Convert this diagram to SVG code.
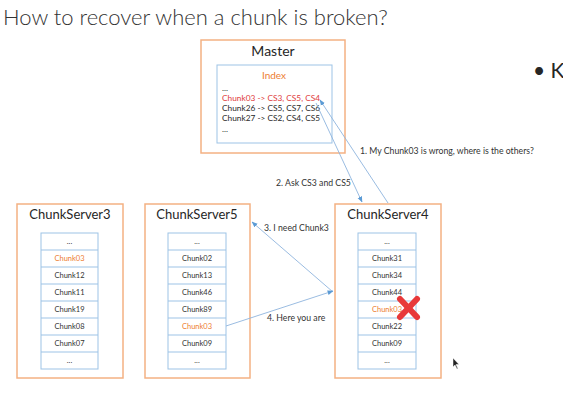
<svg xmlns="http://www.w3.org/2000/svg" width="563" height="400" viewBox="0 0 563 400">
  <defs>
    <style>
      text { font-family: Lato, "Open Sans", "Liberation Sans", sans-serif; fill: #262626; }
      .box { fill: #ffffff; stroke: #F4B183; stroke-width: 1.5; }
      .list { fill: #ffffff; stroke: #9DC3E6; stroke-width: 1; }
      .sep { stroke: #9DC3E6; stroke-width: 1; }
      .title { font-size: 22px; fill: #333333; font-weight: 300; }
      .srv { font-size: 13px; text-anchor: middle; }
      .cell { font-size: 7.5px; text-anchor: middle; fill: #333333; }
      .hot { fill: #ED7D31; }
      .idx { font-size: 8.3px; }
      .red { fill: #E03A3A; }
      .lbl { font-size: 8.7px; fill: #333333; }
      .conn { stroke: #8FB4DE; stroke-width: 0.9; fill: none; marker-end: url(#arrow); }
    </style>
    <marker id="arrow" viewBox="0 0 10 10" refX="9" refY="5" markerWidth="6" markerHeight="6" orient="auto" markerUnits="userSpaceOnUse">
      <path d="M0,1 L10,5 L0,9 z" fill="#5B9BD5"/>
    </marker>
  </defs>

  <rect width="563" height="400" fill="#ffffff"/>

  <text class="title" x="3" y="25">How to recover when a chunk is broken?</text>
  <text x="533" y="78" style="font-size:21px" fill="#222">• K</text>

  <!-- Master with its index table -->
  <g id="master">
    <rect class="box" x="201" y="40" width="144" height="113"/>
    <text x="273" y="56" style="font-size:14px" text-anchor="middle">Master</text>
    <rect class="list" x="217" y="65" width="115" height="78"/>
    <text x="274" y="79" class="idx hot" text-anchor="middle" style="font-size:10px">Index</text>
    <text class="idx" x="222" y="91">...</text>
    <text class="idx red" x="222" y="101">Chunk03 -&gt; CS3, CS5, CS4</text>
    <text class="idx" x="222" y="111">Chunk26 -&gt; CS5, CS7, CS6</text>
    <text class="idx" x="222" y="121">Chunk27 -&gt; CS2, CS4, CS5</text>
    <text class="idx" x="222" y="132">...</text>
  </g>

  <!-- ChunkServer3 -->
  <g id="cs3">
    <rect class="box" x="17" y="204" width="106" height="174"/>
    <text class="srv" x="70" y="219">ChunkServer3</text>
    <rect class="list" x="41" y="233" width="57" height="136"/>
    <path class="sep" d="M41,250H98M41,267H98M41,284H98M41,301H98M41,318H98M41,335H98M41,352H98"/>
    <text class="cell" x="69.5" y="244">...</text>
    <text class="cell hot" x="69.5" y="261">Chunk03</text>
    <text class="cell" x="69.5" y="278">Chunk12</text>
    <text class="cell" x="69.5" y="295">Chunk11</text>
    <text class="cell" x="69.5" y="312">Chunk19</text>
    <text class="cell" x="69.5" y="329">Chunk08</text>
    <text class="cell" x="69.5" y="346">Chunk07</text>
    <text class="cell" x="69.5" y="363">...</text>
  </g>

  <!-- ChunkServer5 -->
  <g id="cs5">
    <rect class="box" x="145" y="204" width="105" height="174"/>
    <text class="srv" x="197" y="219">ChunkServer5</text>
    <rect class="list" x="168" y="233" width="58" height="136"/>
    <path class="sep" d="M168,250H226M168,267H226M168,284H226M168,301H226M168,318H226M168,335H226M168,352H226"/>
    <text class="cell" x="197" y="244">...</text>
    <text class="cell" x="197" y="261">Chunk02</text>
    <text class="cell" x="197" y="278">Chunk13</text>
    <text class="cell" x="197" y="295">Chunk46</text>
    <text class="cell" x="197" y="312">Chunk89</text>
    <text class="cell hot" x="197" y="329">Chunk03</text>
    <text class="cell" x="197" y="346">Chunk09</text>
    <text class="cell" x="197" y="363">...</text>
  </g>

  <!-- ChunkServer4, holding the broken Chunk03 -->
  <g id="cs4">
    <rect class="box" x="335" y="204" width="106" height="174"/>
    <text class="srv" x="388" y="219">ChunkServer4</text>
    <rect class="list" x="358" y="233" width="58" height="136"/>
    <path class="sep" d="M358,250H416M358,267H416M358,284H416M358,301H416M358,318H416M358,335H416M358,352H416"/>
    <text class="cell" x="387" y="244">...</text>
    <text class="cell" x="387" y="261">Chunk31</text>
    <text class="cell" x="387" y="278">Chunk34</text>
    <text class="cell" x="387" y="295">Chunk44</text>
    <text class="cell hot" x="387" y="312">Chunk03</text>
    <text class="cell" x="387" y="329">Chunk22</text>
    <text class="cell" x="387" y="346">Chunk09</text>
    <text class="cell" x="387" y="363">...</text>
    <g id="broken-mark" stroke="#E8393A" stroke-width="6" stroke-linecap="round">
      <line x1="400" y1="299" x2="417" y2="317"/>
      <line x1="417" y1="299" x2="400" y2="317"/>
    </g>
  </g>

  <!-- Message flow -->
  <g id="connectors">
    <line class="conn" x1="388" y1="203" x2="320" y2="100"/>
    <line class="conn" x1="316" y1="103" x2="362" y2="202"/>
    <line class="conn" x1="333" y1="292" x2="252" y2="222"/>
    <line class="conn" x1="226" y1="326" x2="333" y2="291"/>
  </g>
  <g id="labels">
    <text class="lbl" x="360" y="154">1. My Chunk03 is wrong, where is the others?</text>
    <text class="lbl" x="276" y="186">2. Ask CS3 and CS5</text>
    <text class="lbl" x="264" y="231">3. I need Chunk3</text>
    <text class="lbl" x="267" y="321">4. Here you are</text>
  </g>

  <!-- pointer -->
  <path d="M453,358 L453,367 L455,365 L457,369 L458,368.5 L456,364.5 L459,364.5 Z" fill="#222" stroke="#fff" stroke-width="0.5"/>
</svg>
